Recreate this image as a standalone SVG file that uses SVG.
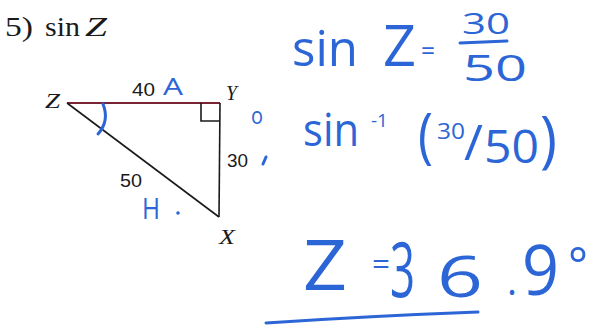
<svg xmlns="http://www.w3.org/2000/svg" width="593" height="329" viewBox="0 0 593 329">
<style>
.prt{font-family:"Liberation Serif","Times New Roman",serif;fill:#1a1a1a}
.vtx{font-family:"Liberation Serif","Times New Roman",serif;font-style:italic;font-size:20px;fill:#1a1a1a}
.num{font-family:"Liberation Sans",Arial,sans-serif;font-size:18px;fill:#1a1a1a}
.hw{font-family:"Open Sans","DejaVu Sans",sans-serif;font-weight:400;fill:#2c66d6}
.hws{fill:none;stroke:#2c66d6;stroke-width:3;stroke-linecap:round}
.edge{fill:none;stroke:#1a1a1a;stroke-width:1.6}
</style>
<rect width="593" height="329" fill="#ffffff"/>
<text class="prt" x="5" y="36" font-size="27" textLength="28" lengthAdjust="spacingAndGlyphs">5)</text>
<text class="prt" x="45" y="36" font-size="27" textLength="35" lengthAdjust="spacingAndGlyphs">sin</text>
<text class="prt" x="85" y="36" font-size="27" font-style="italic" textLength="22" lengthAdjust="spacingAndGlyphs">Z</text>

<g id="connectors">
<line x1="67" y1="103" x2="220" y2="103" stroke="#7a2333" stroke-width="1.8"/>
<line class="edge" x1="220" y1="103" x2="219" y2="217"/>
<line class="edge" x1="67" y1="103" x2="219" y2="217"/>
<polyline class="edge" points="201,103 201,121 220,121"/>
</g>

<g id="node-Z"><text class="vtx" x="45" y="108" textLength="15" lengthAdjust="spacingAndGlyphs">Z</text></g>
<g id="node-Y"><text class="vtx" x="226" y="100" textLength="11" lengthAdjust="spacingAndGlyphs">Y</text></g>
<g id="node-X"><text class="vtx" x="219" y="244" textLength="16" lengthAdjust="spacingAndGlyphs">X</text></g>
<g id="labels">
<text class="num" x="132" y="96" textLength="23" lengthAdjust="spacingAndGlyphs">40</text>
<text class="num" x="227" y="167" textLength="21" lengthAdjust="spacingAndGlyphs">30</text>
<text class="num" x="120" y="187" textLength="22" lengthAdjust="spacingAndGlyphs">50</text>
</g>

<g id="handwriting">
<path class="hws" d="M103,104 C107,114 106,125 98,134"/>
<text class="hw" x="163" y="95" font-size="23" font-weight="700" textLength="20" lengthAdjust="spacingAndGlyphs">A</text>
<text class="hw" x="142" y="219" font-size="30" font-weight="600" textLength="18" lengthAdjust="spacingAndGlyphs">H</text>
<circle cx="178" cy="213" r="1.8" fill="#2c66d6"/>

<text class="hw" x="292" y="66" font-size="50" textLength="66" lengthAdjust="spacingAndGlyphs">sin</text>
<text class="hw" x="383" y="66" font-size="56" textLength="33" lengthAdjust="spacingAndGlyphs">Z</text>
<text class="hw" x="421" y="60" font-size="26" textLength="14" lengthAdjust="spacingAndGlyphs">=</text>
<text class="hw" x="462" y="34" font-size="30" textLength="48" lengthAdjust="spacingAndGlyphs">30</text>
<path class="hws" d="M460,43 L507,41"/>
<text class="hw" x="463" y="81" font-size="36" textLength="64" lengthAdjust="spacingAndGlyphs">50</text>

<text class="hw" x="251" y="124" font-size="24" textLength="12" lengthAdjust="spacingAndGlyphs">o</text>
<path class="hws" d="M266,157 L263,164" stroke-width="2"/>
<text class="hw" x="303" y="146" font-size="46" textLength="56" lengthAdjust="spacingAndGlyphs">sin</text>
<text class="hw" x="371" y="127" font-size="18" textLength="17" lengthAdjust="spacingAndGlyphs">-1</text>
<text class="hw" x="418" y="156" font-size="60" textLength="15" lengthAdjust="spacingAndGlyphs">(</text>
<text class="hw" x="437" y="139" font-size="22" textLength="28" lengthAdjust="spacingAndGlyphs">30</text>
<text class="hw" x="464" y="160" font-size="50" textLength="19" lengthAdjust="spacingAndGlyphs">/</text>
<text class="hw" x="484" y="163" font-size="46" textLength="55" lengthAdjust="spacingAndGlyphs">50</text>
<text class="hw" x="540" y="161" font-size="62" textLength="17" lengthAdjust="spacingAndGlyphs">)</text>

<text class="hw" x="303" y="290" font-size="70" textLength="44" lengthAdjust="spacingAndGlyphs">Z</text>
<text class="hw" x="372" y="274" font-size="30" textLength="18" lengthAdjust="spacingAndGlyphs">=</text>
<text class="hw" x="390" y="297" font-size="76" textLength="25" lengthAdjust="spacingAndGlyphs">3</text>
<text class="hw" x="437" y="297" font-size="56" textLength="46" lengthAdjust="spacingAndGlyphs">6</text>
<text class="hw" x="507" y="295" font-size="40" textLength="10" lengthAdjust="spacingAndGlyphs">.</text>
<text class="hw" x="522" y="295" font-size="70" textLength="37" lengthAdjust="spacingAndGlyphs">9</text>
<text class="hw" x="568" y="283" font-size="50" textLength="20" lengthAdjust="spacingAndGlyphs">°</text>
<path class="hws" d="M266,323 Q370,316 478,312"/>
</g>
</svg>
